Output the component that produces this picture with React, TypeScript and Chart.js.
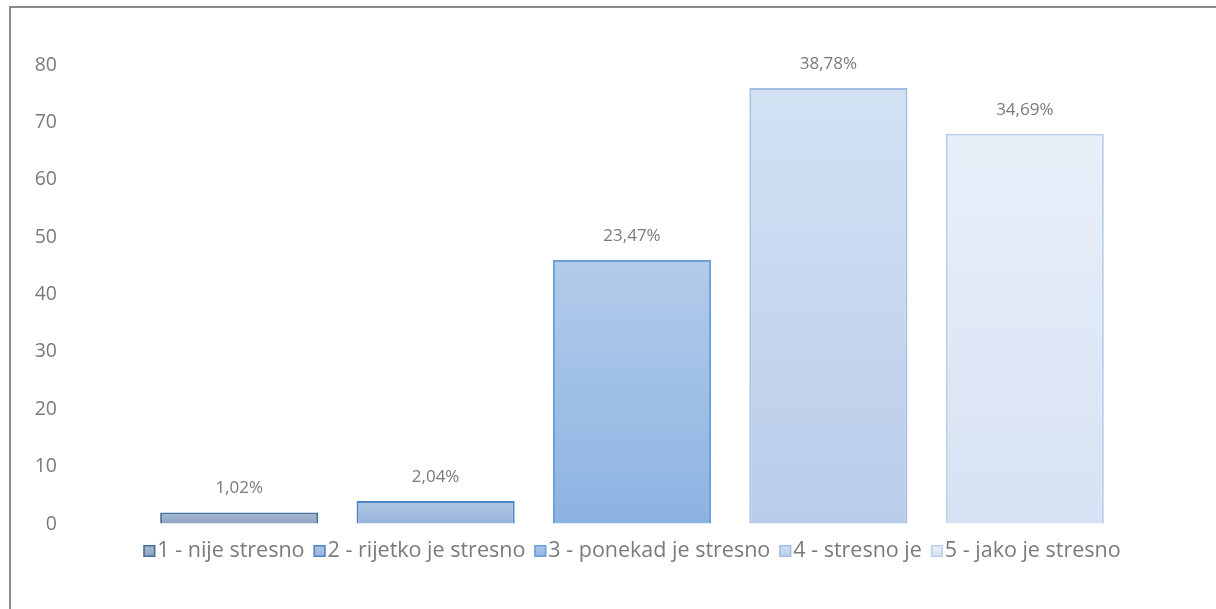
import React, { useEffect, useRef } from "react";
import { Chart, registerables } from "chart.js";

Chart.register(...registerables);

const categories = [
  "1 - nije stresno",
  "2 - rijetko je stresno",
  "3 - ponekad je stresno",
  "4 - stresno je",
  "5 - jako je stresno",
];
const counts = [2, 4, 46, 76, 68];
const percentLabels = ["1,02%", "2,04%", "23,47%", "38,78%", "34,69%"];
const yTicks = [0, 10, 20, 30, 40, 50, 60, 70, 80];

const fillTop = ["#a9b9d1", "#b0c6e4", "#b2cbea", "#d3e1f3", "#e9eff9"];
const fillBottom = ["#8ea3c2", "#97b3db", "#8db3e2", "#b9cdea", "#d6e2f3"];
const borderColors = ["#41719c", "#4f83c1", "#6a9fd8", "#a1bfe5", "#bacfeb"];

const FONT = "'Open Sans', sans-serif";
const TEXT = "#7a7a7a";

export default function App() {
  const ref = useRef<HTMLCanvasElement | null>(null);

  useEffect(() => {
    const canvas = ref.current;
    if (!canvas) return;

    const framePlugin = {
      id: "frame",
      beforeDraw(chart: any) {
        const c = chart.ctx;
        c.save();
        c.strokeStyle = "#8a8a8a";
        c.lineWidth = 2;
        c.beginPath();
        c.moveTo(10, chart.height);
        c.lineTo(10, 7);
        c.lineTo(chart.width, 7);
        c.stroke();
        c.restore();
      },
    };

    const labelsPlugin = {
      id: "valueLabels",
      afterDatasetsDraw(chart: any) {
        const c = chart.ctx;
        const meta = chart.getDatasetMeta(0);
        c.save();
        c.font = `17px ${FONT}`;
        c.fillStyle = TEXT;
        c.textAlign = "center";
        c.textBaseline = "middle";
        meta.data.forEach((bar: any, i: number) => {
          c.fillText(percentLabels[i], bar.x, bar.y - 24);
        });
        c.restore();
      },
    };

    const legendPlugin = {
      id: "customLegend",
      afterDraw(chart: any) {
        const c = chart.ctx;
        const area = chart.chartArea;
        c.save();
        c.font = `21.5px ${FONT}`;
        const box = 12;
        const gapText = 2;
        const gapItem = 9;
        const widths = categories.map((t) => box + gapText + c.measureText(t).width);
        const total = widths.reduce((a, b) => a + b, 0) + gapItem * (categories.length - 1);
        let x = (area.left + area.right) / 2 - total / 2;
        const y = 551;
        categories.forEach((t, i) => {
          const g = c.createLinearGradient(0, y - box / 2, 0, y + box / 2);
          g.addColorStop(0, fillTop[i]);
          g.addColorStop(1, fillBottom[i]);
          c.fillStyle = g;
          c.fillRect(x, y - box / 2, box, box);
          c.strokeStyle = borderColors[i];
          c.lineWidth = 1.5;
          c.strokeRect(x + 0.75, y - box / 2 + 0.75, box - 1.5, box - 1.5);
          c.fillStyle = TEXT;
          c.textAlign = "left";
          c.textBaseline = "middle";
          c.fillText(t, x + box + gapText, y);
          x += widths[i] + gapItem;
        });
        c.restore();
      },
    };

    const chart = new Chart(canvas, {
      type: "bar",
      data: {
        labels: categories,
        datasets: [
          {
            data: counts,
            backgroundColor: (ctx: any) => {
              const i = ctx.dataIndex;
              const chartObj = ctx.chart;
              const ys = chartObj.scales && chartObj.scales.y;
              if (!chartObj.chartArea || !ys || i === undefined) return fillBottom[i ?? 0];
              const top = ys.getPixelForValue(counts[i]);
              const bottom = ys.getPixelForValue(0);
              const g = chartObj.ctx.createLinearGradient(0, top, 0, bottom);
              g.addColorStop(0, fillTop[i]);
              g.addColorStop(1, fillBottom[i]);
              return g;
            },
            borderColor: borderColors,
            borderWidth: 2,
            barPercentage: 0.805,
            categoryPercentage: 1,
          },
        ],
      },
      options: {
        animation: false,
        responsive: false,
        devicePixelRatio: 1,
        layout: { padding: { top: 65, right: 93, bottom: 85, left: 0 } },
        plugins: {
          legend: { display: false },
          tooltip: { enabled: false },
          title: { display: false },
        },
        scales: {
          x: { display: false },
          y: {
            min: 0,
            max: 80,
            afterFit(scale: any) {
              scale.width = 141;
            },
            afterBuildTicks(scale: any) {
              scale.ticks = yTicks.map((v) => ({ value: v }));
            },
            border: { display: false },
            grid: {
              display: true,
              drawOnChartArea: false,
              drawTicks: true,
              tickLength: 84,
              color: "rgba(0,0,0,0)",
              tickColor: "rgba(0,0,0,0)",
            },
            ticks: {
              padding: 0,
              color: TEXT,
              font: { family: FONT, size: 19.5 },
            },
          },
        },
      },
      plugins: [framePlugin, labelsPlugin, legendPlugin],
    });

    return () => chart.destroy();
  }, []);

  return (
    <div style={{ position: "absolute", left: 0, top: 0, width: 1216, height: 609, background: "#fff" }}>
      <canvas ref={ref} width={1216} height={609} style={{ width: 1216, height: 609, display: "block" }} />
    </div>
  );
}
